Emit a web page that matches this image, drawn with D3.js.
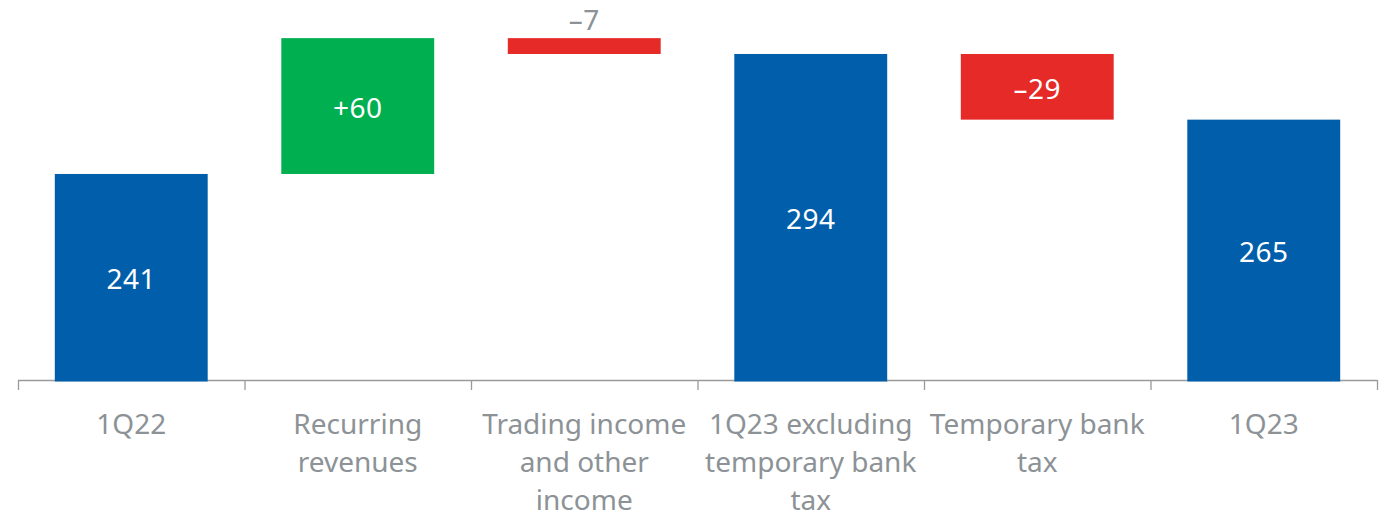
<!DOCTYPE html>
<html>
<head>
<meta charset="utf-8">
<script src="https://cdn.jsdelivr.net/npm/d3@7"></script>
<style>
  body { margin: 0; background: #fff; }
  text { font-family: "Noto Sans", sans-serif; }
</style>
</head>
<body>
<svg id="chart"></svg>
<script>
// categories and values
const categories = ["1Q22", "Recurring revenues", "Trading income and other income",
                    "1Q23 excluding temporary bank tax", "Temporary bank tax", "1Q23"];
const labelLines = [["1Q22"], ["Recurring", "revenues"], ["Trading income", "and other", "income"],
                    ["1Q23 excluding", "temporary bank", "tax"], ["Temporary bank", "tax"], ["1Q23"]];
const values = [241, 60, -7, 294, -29, 265];
const kinds = ["total", "delta", "delta", "total", "delta", "total"];
const valueLabels = ["241", "+60", "\u20137", "294", "\u201329", "265"];

const svgWidth = 1388, svgHeight = 517;
const margin = {left: 18, right: 11};
const baseY = 380;

const chart = d3.select("#chart")
    .attr("width", svgWidth)
    .attr("height", svgHeight);

// build waterfall segments
let running = 0;
const data = categories.map(function(c, i) {
  let start, end;
  if (kinds[i] == "total") { start = 150; end = values[i]; running = values[i]; }
  else { start = running; end = running + values[i]; running = end; }
  return {cat: c, start: start, end: end, kind: kinds[i], v: values[i], label: valueLabels[i], lines: labelLines[i]};
});

const x = d3.scaleBand()
  .domain(categories)
  .range([margin.left, svgWidth - margin.right])
  .paddingInner(0.325)
  .paddingOuter(0.1625);

const y = d3.scaleLinear()
  .domain([150, 300])
  .range([baseY, baseY - 150 * 2.264]);

function colorOf(d) {
  if (d.kind == "total") return "#005EAA";
  return d.v >= 0 ? "#00B050" : "#E52A27";
}

// axis line + ticks at band edges
const step = x.step();
chart.append("line")
  .attr("x1", margin.left).attr("x2", svgWidth - margin.right)
  .attr("y1", baseY + 0.5).attr("y2", baseY + 0.5)
  .attr("stroke", "#9a9a9a").attr("stroke-width", 1.3);

chart.selectAll(".tick")
  .data(d3.range(categories.length + 1))
  .enter().append("line")
  .attr("x1", d => margin.left + d * step + 0.5)
  .attr("x2", d => margin.left + d * step + 0.5)
  .attr("y1", baseY).attr("y2", baseY + 10)
  .attr("stroke", "#9a9a9a").attr("stroke-width", 1.3);

// bars
chart.selectAll(".bar")
  .data(data)
  .enter().append("rect")
  .attr("x", d => x(d.cat))
  .attr("width", x.bandwidth())
  .attr("y", d => y(Math.max(d.start, d.end)))
  .attr("height", d => Math.abs(y(d.start) - y(d.end)) + (d.kind == "total" ? 1.5 : 0))
  .style("fill", colorOf);

// value labels
chart.selectAll(".val")
  .data(data)
  .enter().append("text")
  .attr("x", d => x(d.cat) + x.bandwidth() / 2)
  .attr("y", function(d) {
    const h = Math.abs(y(d.start) - y(d.end));
    if (h < 30) return y(Math.max(d.start, d.end)) - 18;
    return (y(d.start) + y(d.end)) / 2 + 2;
  })
  .attr("dy", "0.35em")
  .attr("text-anchor", "middle")
  .style("font-size", "28px")
  .style("letter-spacing", "0.5px")
  .style("fill", function(d) {
    return Math.abs(y(d.start) - y(d.end)) < 30 ? "#8c9296" : "#ffffff";
  })
  .text(d => d.label);

// category labels
const cl = chart.selectAll(".cat")
  .data(data)
  .enter().append("text")
  .attr("text-anchor", "middle")
  .style("font-size", "28px")
  .style("fill", "#8c9296");

cl.selectAll("tspan")
  .data(d => d.lines.map(l => ({l: l, cx: x(d.cat) + x.bandwidth() / 2})))
  .enter().append("tspan")
  .attr("x", d => d.cx)
  .attr("y", (d, i) => 434 + i * 38)
  .text(d => d.l);
</script>
</body>
</html>
